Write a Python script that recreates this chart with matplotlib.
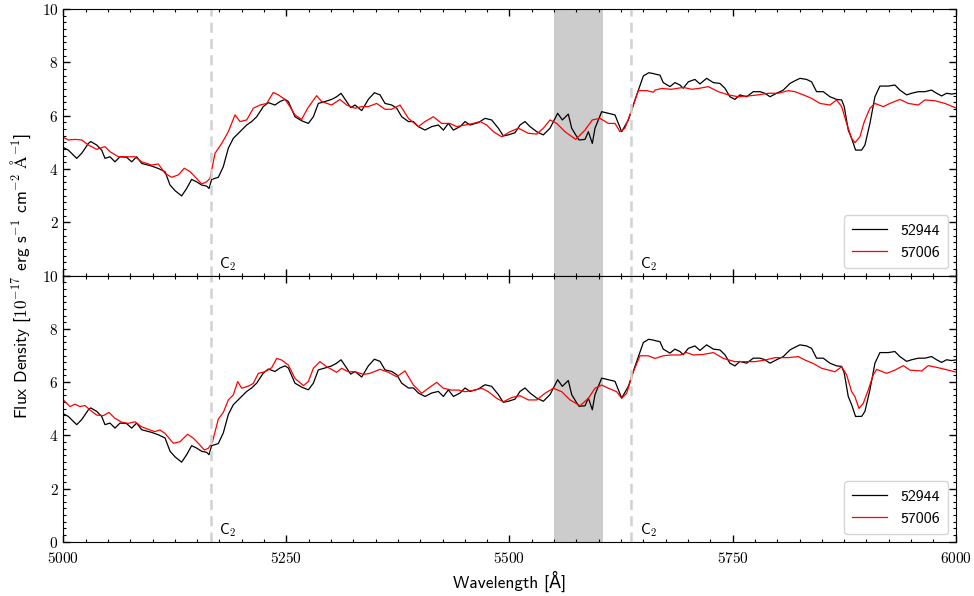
import numpy as np
import matplotlib
matplotlib.use('Agg')
from matplotlib import pyplot as plt
from matplotlib.ticker import MultipleLocator, FuncFormatter

# spectrum of MJD 52944 (same curve in both panels)
wave_52944 = [5000.0, 5005.6, 5015.0, 5020.6, 5028.1, 5030.7, 5037.4, 5043.0, 5046.7, 5052.3,
              5057.9, 5063.5, 5071.0, 5076.6, 5082.2, 5087.8, 5099.0, 5106.5, 5114.0, 5119.6,
              5125.2, 5132.6, 5138.2, 5143.8, 5149.4, 5155.0, 5160.6, 5163.3, 5166.2, 5173.7,
              5179.3, 5184.9, 5190.5, 5198.0, 5205.5, 5211.1, 5216.7, 5224.1, 5229.7, 5237.2,
              5242.8, 5248.4, 5252.2, 5259.6, 5267.1, 5274.6, 5280.2, 5285.8, 5293.2, 5300.7,
              5306.3, 5311.2, 5317.5, 5322.0,
              5326.9, 5334.4, 5341.8, 5348.6, 5354.9, 5360.5, 5368.0, 5373.6, 5379.2, 5386.7,
              5392.3, 5397.9, 5405.3, 5412.8, 5420.3, 5425.9, 5431.5, 5437.1, 5444.6, 5450.2,
              5455.8, 5465.1, 5472.6, 5480.0, 5487.5, 5493.1, 5498.7, 5506.2, 5511.8, 5517.4,
              5523.0, 5530.5, 5537.9, 5545.4, 5554.0, 5559.2, 5565.9, 5569.7, 5574.2, 5577.9,
              5584.6, 5588.4, 5592.8, 5595.8, 5603.3, 5610.8, 5618.2, 5622.0, 5625.7, 5633.2,
              5640.6, 5650.0, 5656.0, 5661.2,
              5663.0, 5668.6, 5672.3, 5679.8, 5685.4, 5691.0, 5694.7, 5700.4, 5707.8, 5713.4,
              5720.9, 5728.4, 5735.8, 5741.4, 5747.0, 5752.6, 5758.2, 5765.7, 5773.2, 5780.7,
              5786.3, 5791.9, 5799.3, 5806.8, 5814.3, 5819.9, 5825.5, 5832.9, 5838.5, 5844.1,
              5851.6, 5859.1, 5866.6, 5872.2, 5875.1, 5879.6, 5883.4, 5887.8, 5894.6, 5898.3,
              5903.9, 5909.5, 5915.1, 5924.5, 5931.9, 5937.5, 5945.0, 5950.6, 5958.1, 5965.5,
              5973.0, 5978.6, 5984.2, 5989.8, 5995.4, 6001.0]
flux_52944 = [4.81, 4.71, 4.40, 4.59, 4.96, 5.03, 4.90, 4.71, 4.40, 4.46,
              4.27, 4.46, 4.44, 4.27, 4.46, 4.21, 4.11, 4.02, 3.90, 3.40,
              3.19, 2.99, 3.27, 3.61, 3.52, 3.40, 3.36, 3.27, 3.61, 3.69,
              4.09, 4.78, 5.15, 5.40, 5.65, 5.78, 5.96, 6.34, 6.49, 6.40,
              6.53, 6.61, 6.53, 5.96, 5.81, 5.71, 5.96, 6.46, 6.53, 6.61,
              6.71, 6.84, 6.53, 6.30,
              6.40, 6.19, 6.61, 6.86, 6.78, 6.46, 6.40, 6.28, 5.96, 5.78,
              5.78, 5.59, 5.46, 5.59, 5.65, 5.46, 5.71, 5.46, 5.59, 5.78,
              5.65, 5.74, 5.90, 5.84, 5.53, 5.24, 5.28, 5.36, 5.65, 5.78,
              5.59, 5.40, 5.28, 5.53, 6.09, 5.84, 6.06, 5.53, 5.28, 5.09,
              5.11, 5.40, 4.96, 5.53, 6.15, 6.09, 6.03, 5.71, 5.40, 5.84,
              6.59, 7.49, 7.61, 7.58,
              7.56, 7.52, 7.24, 7.09, 7.24, 7.15, 7.03, 7.27, 7.36, 7.19,
              7.40, 7.24, 7.21, 7.03, 6.71, 6.61, 6.78, 6.71, 6.90, 6.90,
              6.84, 6.71, 6.84, 6.96, 7.21, 7.31, 7.40, 7.36, 7.27, 6.90,
              6.90, 6.71, 6.61, 6.59, 6.34, 5.46, 5.15, 4.71, 4.71, 4.90,
              5.71, 6.71, 7.11, 7.11, 7.15, 6.96, 6.78, 6.84, 6.90, 6.90,
              6.96, 6.84, 6.74, 6.84, 6.81, 6.84]

# spectrum of MJD 57006, upper panel
wave_57006_top = [5000.0, 5005.6, 5013.1, 5020.6, 5028.1, 5037.4, 5046.7, 5052.3, 5061.7, 5072.9,
                  5080.3, 5087.8, 5099.0, 5106.5, 5114.0, 5121.4, 5128.9, 5135.6, 5142.0, 5147.6,
                  5155.0, 5160.6, 5164.4, 5170.0, 5177.5, 5184.9, 5192.4, 5198.0, 5205.5, 5213.0,
                  5220.4, 5227.9, 5235.3, 5241.0, 5248.4, 5254.0, 5259.6, 5267.1, 5273.8, 5283.9,
                  5289.5, 5300.7, 5310.0, 5317.5,
                  5326.9, 5334.4, 5341.8, 5351.2, 5360.5, 5368.0, 5377.3, 5386.7, 5397.9, 5405.3,
                  5414.7, 5424.0, 5433.3, 5440.8, 5450.2, 5459.5, 5467.0, 5474.4, 5481.9, 5491.2,
                  5500.6, 5509.9, 5521.1, 5530.5, 5537.9, 5545.4, 5552.9, 5562.2, 5574.2, 5584.6,
                  5592.8, 5601.4, 5610.8, 5618.2, 5623.8, 5629.4, 5636.9, 5644.4, 5653.7, 5661.2,
                  5663.0, 5670.5, 5681.7, 5694.7, 5704.1, 5711.6, 5722.8, 5734.0, 5745.2, 5756.4,
                  5767.6, 5778.8, 5790.0, 5801.2, 5812.4, 5819.9, 5829.2, 5838.5, 5847.9, 5859.1,
                  5866.6, 5872.2, 5877.8, 5883.4, 5887.1, 5892.7, 5897.6, 5903.9, 5909.5, 5918.8,
                  5926.3, 5937.5, 5946.9, 5958.1, 5965.5, 5976.7, 5987.9, 6001.0]
flux_57006_top = [5.19, 5.09, 5.11, 5.09, 4.90, 4.74, 4.84, 4.65, 4.46, 4.46,
                  4.46, 4.27, 4.15, 4.19, 3.84, 3.69, 3.78, 4.03, 3.90, 3.71,
                  3.44, 3.52, 3.65, 4.59, 4.96, 5.40, 6.03, 5.78, 5.84, 6.28,
                  6.40, 6.46, 6.87, 6.78, 6.61, 6.34, 6.03, 5.86, 6.28, 6.75,
                  6.53, 6.40, 6.61, 6.40,
                  6.28, 6.34, 6.34, 6.46, 6.24, 6.24, 6.40, 5.90, 5.59, 5.78,
                  5.96, 5.71, 5.71, 5.59, 5.65, 5.71, 5.78, 5.65, 5.40, 5.21,
                  5.40, 5.53, 5.34, 5.31, 5.53, 5.84, 5.71, 5.40, 5.11, 5.46,
                  5.84, 5.90, 5.71, 5.71, 5.40, 5.53, 6.21, 6.94, 6.94, 6.88,
                  6.96, 7.02, 6.99, 7.06, 6.99, 7.02, 7.09, 6.90, 6.78, 6.71,
                  6.74, 6.78, 6.84, 6.84, 6.94, 6.90, 6.78, 6.65, 6.46, 6.40,
                  6.59, 6.34, 5.71, 5.15, 4.99, 5.21, 5.78, 6.28, 6.46, 6.34,
                  6.46, 6.61, 6.46, 6.40, 6.59, 6.56, 6.46, 6.28]

# spectrum of MJD 57006, lower panel
wave_57006_bot = [5000.0, 5007.5, 5013.1, 5018.7, 5024.3, 5029.9, 5037.4, 5044.9, 5051.2, 5057.9,
                  5065.4, 5072.9, 5080.3, 5087.8, 5097.1, 5102.7, 5108.4, 5114.0, 5123.3, 5130.8,
                  5139.3, 5145.7, 5151.3, 5158.0, 5162.5, 5167.0, 5173.7, 5179.3, 5184.9, 5190.5,
                  5195.4, 5199.9, 5207.3, 5212.9, 5218.5, 5226.0, 5233.5, 5239.1, 5244.7, 5252.2,
                  5259.6, 5269.0, 5274.6, 5280.2, 5287.6, 5295.1, 5306.3, 5311.9, 5319.4,
                  5326.9, 5336.2, 5343.7, 5354.9, 5364.3, 5373.6, 5382.9, 5392.3, 5401.6, 5409.1,
                  5418.4, 5425.9, 5435.2, 5442.7, 5450.2, 5461.4, 5468.8, 5476.3, 5485.6, 5493.1,
                  5502.4, 5511.8, 5521.1, 5530.5, 5539.8, 5549.1, 5558.5, 5567.8, 5579.0, 5588.4,
                  5595.8, 5603.3, 5610.8, 5620.1, 5625.7, 5631.3, 5638.8, 5646.2, 5655.6,
                  5663.0, 5672.3, 5681.7, 5691.0, 5698.5, 5706.0, 5717.2, 5728.4, 5739.6, 5752.6,
                  5763.8, 5775.1, 5786.3, 5797.5, 5812.4, 5823.6, 5831.1, 5840.4, 5849.8, 5864.7,
                  5872.2, 5877.8, 5883.4, 5887.1, 5891.6, 5896.4, 5902.0, 5907.6, 5911.4, 5922.6,
                  5931.9, 5941.3, 5948.7, 5961.8, 5969.3, 5980.5, 5991.7, 6001.0]
flux_57006_bot = [5.33, 5.08, 5.17, 5.08, 5.12, 4.95, 4.76, 4.74, 4.86, 4.64,
                  4.49, 4.45, 4.51, 4.32, 4.20, 4.14, 4.20, 4.07, 3.70, 3.76,
                  4.04, 3.89, 3.70, 3.45, 3.51, 3.74, 4.61, 4.86, 5.33, 5.52,
                  6.02, 5.77, 5.85, 5.95, 6.33, 6.39, 6.54, 6.89, 6.83, 6.64,
                  6.14, 5.87, 6.02, 6.52, 6.77, 6.58, 6.37, 6.52, 6.39,
                  6.39, 6.29, 6.33, 6.48, 6.37, 6.20, 6.42, 5.89, 5.58, 5.77,
                  5.99, 5.77, 5.70, 5.70, 5.64, 5.70, 5.77, 5.64, 5.39, 5.26,
                  5.42, 5.49, 5.33, 5.33, 5.58, 5.77, 5.64, 5.33, 5.11, 5.39,
                  5.77, 5.89, 5.77, 5.64, 5.39, 5.58, 6.39, 6.99, 6.99,
                  6.89, 6.99, 7.02, 7.02, 7.11, 7.02, 7.04, 7.11, 6.89, 6.77,
                  6.77, 6.77, 6.83, 6.92, 6.92, 6.96, 6.83, 6.70, 6.52, 6.39,
                  6.58, 6.27, 5.64, 5.45, 5.01, 5.20, 5.70, 6.27, 6.48, 6.33,
                  6.45, 6.62, 6.45, 6.42, 6.62, 6.54, 6.45, 6.37]

c2_lines = [5165, 5636]
masked = [5550, 5605]
labels = ['52944', '57006']

plt.rcParams['mathtext.fontset'] = 'cm'
plt.rcParams['font.family'] = ['cmss10', 'DejaVu Sans']
plt.rcParams['axes.unicode_minus'] = False
plt.rcParams['axes.formatter.use_mathtext'] = True

def format_y(x, pos):
    return '$%d$' % x

def format_y_top(x, pos):
    if x < 1:
        return ''
    return '$%d$' % x

def format_x(x, pos):
    return '$%d$' % x

fig = plt.figure(figsize=(9.74, 5.96), dpi=100)
ax1 = fig.add_axes([0.065, 0.5374, 0.9162, 0.4475])
ax2 = fig.add_axes([0.065, 0.0911, 0.9162, 0.4463], sharex=ax1)

reds = [(wave_57006_top, flux_57006_top), (wave_57006_bot, flux_57006_bot)]
for ax, (wr, fr) in zip([ax1, ax2], reds):
    ax.axvspan(masked[0], masked[1], color='0.8', lw=0, zorder=0)
    ax.plot(wave_52944, flux_52944, color='k', lw=0.9, label=labels[0])
    ax.plot(wr, fr, color='r', lw=0.9, label=labels[1])
    for w in c2_lines:
        ax.axvline(w, color='0.82', ls='--', lw=1.8, dashes=(4, 2.5))
        ax.text(w + 10, 0.12, r'C$_2$', fontsize=11, va='bottom', ha='left')
    ax.set_xlim(5000, 6000)
    ax.set_ylim(0, 10)
    ax.xaxis.set_major_locator(MultipleLocator(250))
    ax.xaxis.set_minor_locator(MultipleLocator(25))
    ax.yaxis.set_major_locator(MultipleLocator(2))
    ax.yaxis.set_minor_locator(MultipleLocator(0.25))
    ax.tick_params(which='both', direction='in', top=True, right=True, labelsize=11)
    ax.tick_params(which='major', length=5, width=1)
    ax.tick_params(which='minor', length=2.5, width=0.8)
    ax.tick_params(axis='x', which='major', pad=7)
    ax.legend(loc='lower right', fontsize=11.5, handlelength=2.2, borderpad=0.5)

ax1.yaxis.set_major_formatter(FuncFormatter(format_y_top))
ax2.yaxis.set_major_formatter(FuncFormatter(format_y))
ax2.xaxis.set_major_formatter(FuncFormatter(format_x))
plt.setp(ax1.get_xticklabels(), visible=False)

ax2.set_xlabel('Wavelength [Å]', fontsize=12.5, labelpad=3)
fig.text(0.021, 0.538, r'Flux Density [$10^{-17}$ erg s$^{-1}$ cm$^{-2}$ $\mathrm{\AA}^{-1}$]',
         rotation=90, fontsize=12.5, ha='center', va='center')

fig.savefig('out.png', dpi=100)
